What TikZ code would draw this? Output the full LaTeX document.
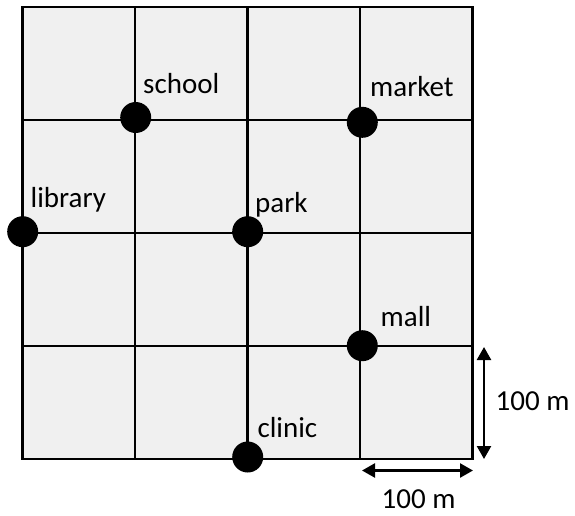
\documentclass[tikz,border=0pt]{standalone}
\usepackage{fontspec}
\setmainfont{Carlito}
\usetikzlibrary{arrows.meta}
\definecolor{cellgray}{HTML}{F0F0F0}
\tikzset{
  gridline/.style={line width=2.2pt, black},
  place/.style={circle, fill=black, inner sep=0pt, minimum size=31pt},
  lbl/.style={anchor=base west, inner sep=0pt, font=\fontsize{29}{34}\selectfont},
  dimarrow/.style={line width=2.4pt, {Triangle[length=13pt,width=14pt]}-{Triangle[length=13pt,width=14pt]}}
}
\begin{document}
\begin{tikzpicture}[x=1pt,y=-1pt]
\useasboundingbox (0,0) rectangle (575,515);
% grid
\fill[cellgray] (22.5,7) rectangle (472.5,459);
\foreach \xx in {22.5,135,247.5,360,472.5}
  \draw[gridline] (\xx,7) -- (\xx,459);
\foreach \yy in {7,120,233,346,459}
  \draw[gridline] (22.5,\yy) -- (472.5,\yy);
\draw[gridline] (22.5,7) rectangle (472.5,459);
% places
\node[place] (school) at (135.7,117.5) {};
\node[place] (market) at (362.3,122.3) {};
\node[place] (library) at (22.7,231.7) {};
\node[place] (park) at (247.7,231.7) {};
\node[place] (mall) at (362.3,345.7) {};
\node[place] (clinic) at (247.7,457) {};
% labels
\node[lbl] (tschool) at (143,93.5) {school};
\node[lbl] (tmarket) at (370,96) {market};
\node[lbl] (tlibrary) at (30.5,207) {library};
\node[lbl] (tpark) at (255,212.7) {park};
\node[lbl] (tmall) at (380.5,326.7) {mall};
\node[lbl] (tclinic) at (257.3,437.7) {clinic};
% dimensions
\coordinate (v1) at (484,347);
\coordinate (v2) at (484,459);
\coordinate (h1) at (362,470.5);
\coordinate (h2) at (473,470.5);
\draw[dimarrow] (v1) -- (v2);
\draw[dimarrow] (h1) -- (h2);
\node[lbl] (tv) at (495.5,410) {100 m};
\node[lbl] (th) at (381.5,508) {100 m};
\end{tikzpicture}
\end{document}
